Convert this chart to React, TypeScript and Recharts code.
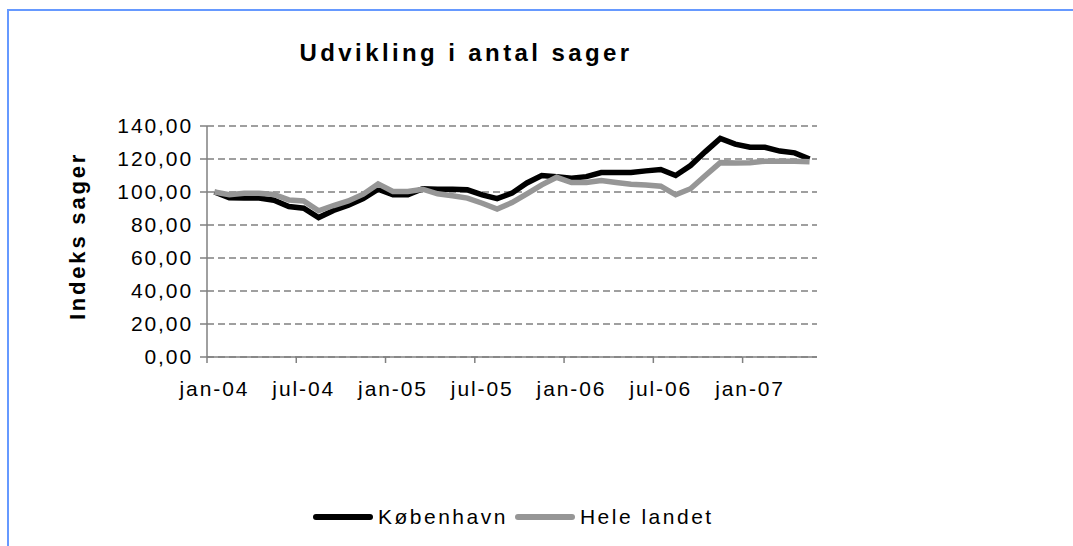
import { CartesianGrid, Line, LineChart, XAxis, YAxis } from "recharts";

const MONTHS = [
  "jan-04", "feb-04", "mar-04", "apr-04", "maj-04", "jun-04", "jul-04", "aug-04", "sep-04", "okt-04", "nov-04", "dec-04",
  "jan-05", "feb-05", "mar-05", "apr-05", "maj-05", "jun-05", "jul-05", "aug-05", "sep-05", "okt-05", "nov-05", "dec-05",
  "jan-06", "feb-06", "mar-06", "apr-06", "maj-06", "jun-06", "jul-06", "aug-06", "sep-06", "okt-06", "nov-06", "dec-06",
  "jan-07", "feb-07", "mar-07", "apr-07", "maj-07",
];

const KOBENHAVN = [
  100, 96.5, 96.3, 96.3, 95, 91.2, 90.2, 84.5, 88.8, 92, 96, 101.7,
  98.3, 98.3, 102, 101.7, 101.7, 101.3, 98.3, 96, 99.3, 105.5, 110, 109.3,
  108.4, 109.3, 111.8, 111.8, 111.8, 112.8, 113.6, 110, 116, 124.5, 132.5, 129,
  127.1, 127.1, 124.8, 123.7, 120,
];

const HELE_LANDET = [
  100, 98.3, 99.3, 99.3, 98.5, 95.2, 94.6, 88.6, 91.8, 94.6, 98.7, 104.9,
  100.3, 100.3, 101.7, 98.9, 97.7, 96.3, 93.2, 89.7, 93.6, 98.9, 104.3, 108.9,
  105.7, 105.7, 106.9, 105.7, 104.7, 104.3, 103.5, 98.3, 102, 110, 117.8, 117.6,
  117.8, 118.7, 118.7, 118.7, 118.3,
];

const SERIES_NAMES = ["København", "Hele landet"];
const SERIES_COLORS = ["#000000", "#969696"];
const Y_TICKS = [0, 20, 40, 60, 80, 100, 120, 140];

const TITLE = "Udvikling i antal sager";
const Y_LABEL = "Indeks sager";

const FONT = '"Liberation Sans", Arial, sans-serif';

const W = 1073;
const H = 546;
const X_AXIS_H = 45;
const MARGIN = { top: 126, right: 256, left: 0, bottom: 189 - X_AXIS_H };
const Y_AXIS_W = 207;
const PLOT_W = W - MARGIN.left - MARGIN.right - Y_AXIS_W;
const HALF_STEP = PLOT_W / MONTHS.length / 2;

const data = MONTHS.map((month, i) => ({
  i,
  month,
  kbh: KOBENHAVN[i],
  hele: HELE_LANDET[i],
}));

// jan/jul get a label; the tick mark sits on the boundary before that month
const labelTicks = data
  .filter((d) => d.month.startsWith("jan") || d.month.startsWith("jul"))
  .map((d) => d.i);

const fmt = (v: number) => v.toFixed(2).replace(".", ",");

function MonthTick(props: any) {
  const { x, y, payload } = props;
  return (
    <g>
      <line x1={x - HALF_STEP} x2={x - HALF_STEP} y1={y} y2={y + 6} stroke="#808080" strokeWidth={1.5} />
      <text
        x={x}
        y={y + 39}
        textAnchor="middle"
        fill="#000"
        fontSize={21}
        fontFamily={FONT}
        letterSpacing={1.9}
      >
        {MONTHS[payload.value]}
      </text>
    </g>
  );
}

export default function App() {
  return (
    <div
      style={{
        position: "absolute",
        left: 0,
        top: 0,
        width: W,
        height: H,
        overflow: "hidden",
        background: "#fff",
        fontFamily: FONT,
      }}
    >
      <div
        style={{
          position: "absolute",
          left: 7,
          top: 9,
          width: W - 7,
          height: H - 9,
          borderLeft: "2px solid #6699ff",
          borderTop: "2px solid #6699ff",
          boxSizing: "border-box",
        }}
      />
      <LineChart
        width={W}
        height={H}
        data={data}
        margin={MARGIN}
        style={{ position: "absolute", left: 0, top: 0 }}
      >
        <CartesianGrid
          vertical={false}
          strokeDasharray="7 4"
          stroke="#808080"
          strokeWidth={1.5}
        />
        <XAxis
          dataKey="i"
          type="number"
          domain={[-0.5, MONTHS.length - 0.5]}
          ticks={labelTicks}
          stroke="#808080"
          strokeWidth={1.5}
          tickLine={false}
          tickSize={0}
          tickMargin={0}
          height={X_AXIS_H}
          tick={<MonthTick />}
        />
        <YAxis
          domain={[0, 140]}
          ticks={Y_TICKS}
          width={Y_AXIS_W}
          stroke="#808080"
          strokeWidth={1.5}
          tickSize={7}
          tickMargin={7}
          tickFormatter={fmt}
          tick={{ fill: "#000", fontSize: 21, fontFamily: FONT, letterSpacing: 1.9 }}
        />
        <Line
          dataKey="kbh"
          name={SERIES_NAMES[0]}
          stroke={SERIES_COLORS[0]}
          strokeWidth={5.5}
          dot={false}
          isAnimationActive={false}
        />
        <Line
          dataKey="hele"
          name={SERIES_NAMES[1]}
          stroke={SERIES_COLORS[1]}
          strokeWidth={5.5}
          dot={false}
          isAnimationActive={false}
        />
      </LineChart>

      <div
        style={{
          position: "absolute",
          left: 466,
          top: 39,
          transform: "translateX(-50%)",
          whiteSpace: "nowrap",
          fontSize: 24,
          fontWeight: "bold",
          letterSpacing: 3.4,
          color: "#000",
        }}
      >
        {TITLE}
      </div>

      <div
        style={{
          position: "absolute",
          left: 78,
          top: 236,
          transform: "translate(-50%, -50%) rotate(-90deg)",
          whiteSpace: "nowrap",
          fontSize: 22,
          fontWeight: "bold",
          letterSpacing: 2.8,
          color: "#000",
        }}
      >
        {Y_LABEL}
      </div>

      <div
        style={{
          position: "absolute",
          left: 313,
          top: 505,
          display: "flex",
          alignItems: "center",
          fontSize: 21,
          letterSpacing: 2.5,
          color: "#000",
          whiteSpace: "nowrap",
        }}
      >
        {SERIES_NAMES.map((name, k) => (
          <div key={name} style={{ display: "flex", alignItems: "center", marginRight: 7 }}>
            <div
              style={{
                width: 60,
                height: 6,
                borderRadius: 3,
                background: SERIES_COLORS[k],
                marginRight: 5,
              }}
            />
            <span>{name}</span>
          </div>
        ))}
      </div>
    </div>
  );
}
